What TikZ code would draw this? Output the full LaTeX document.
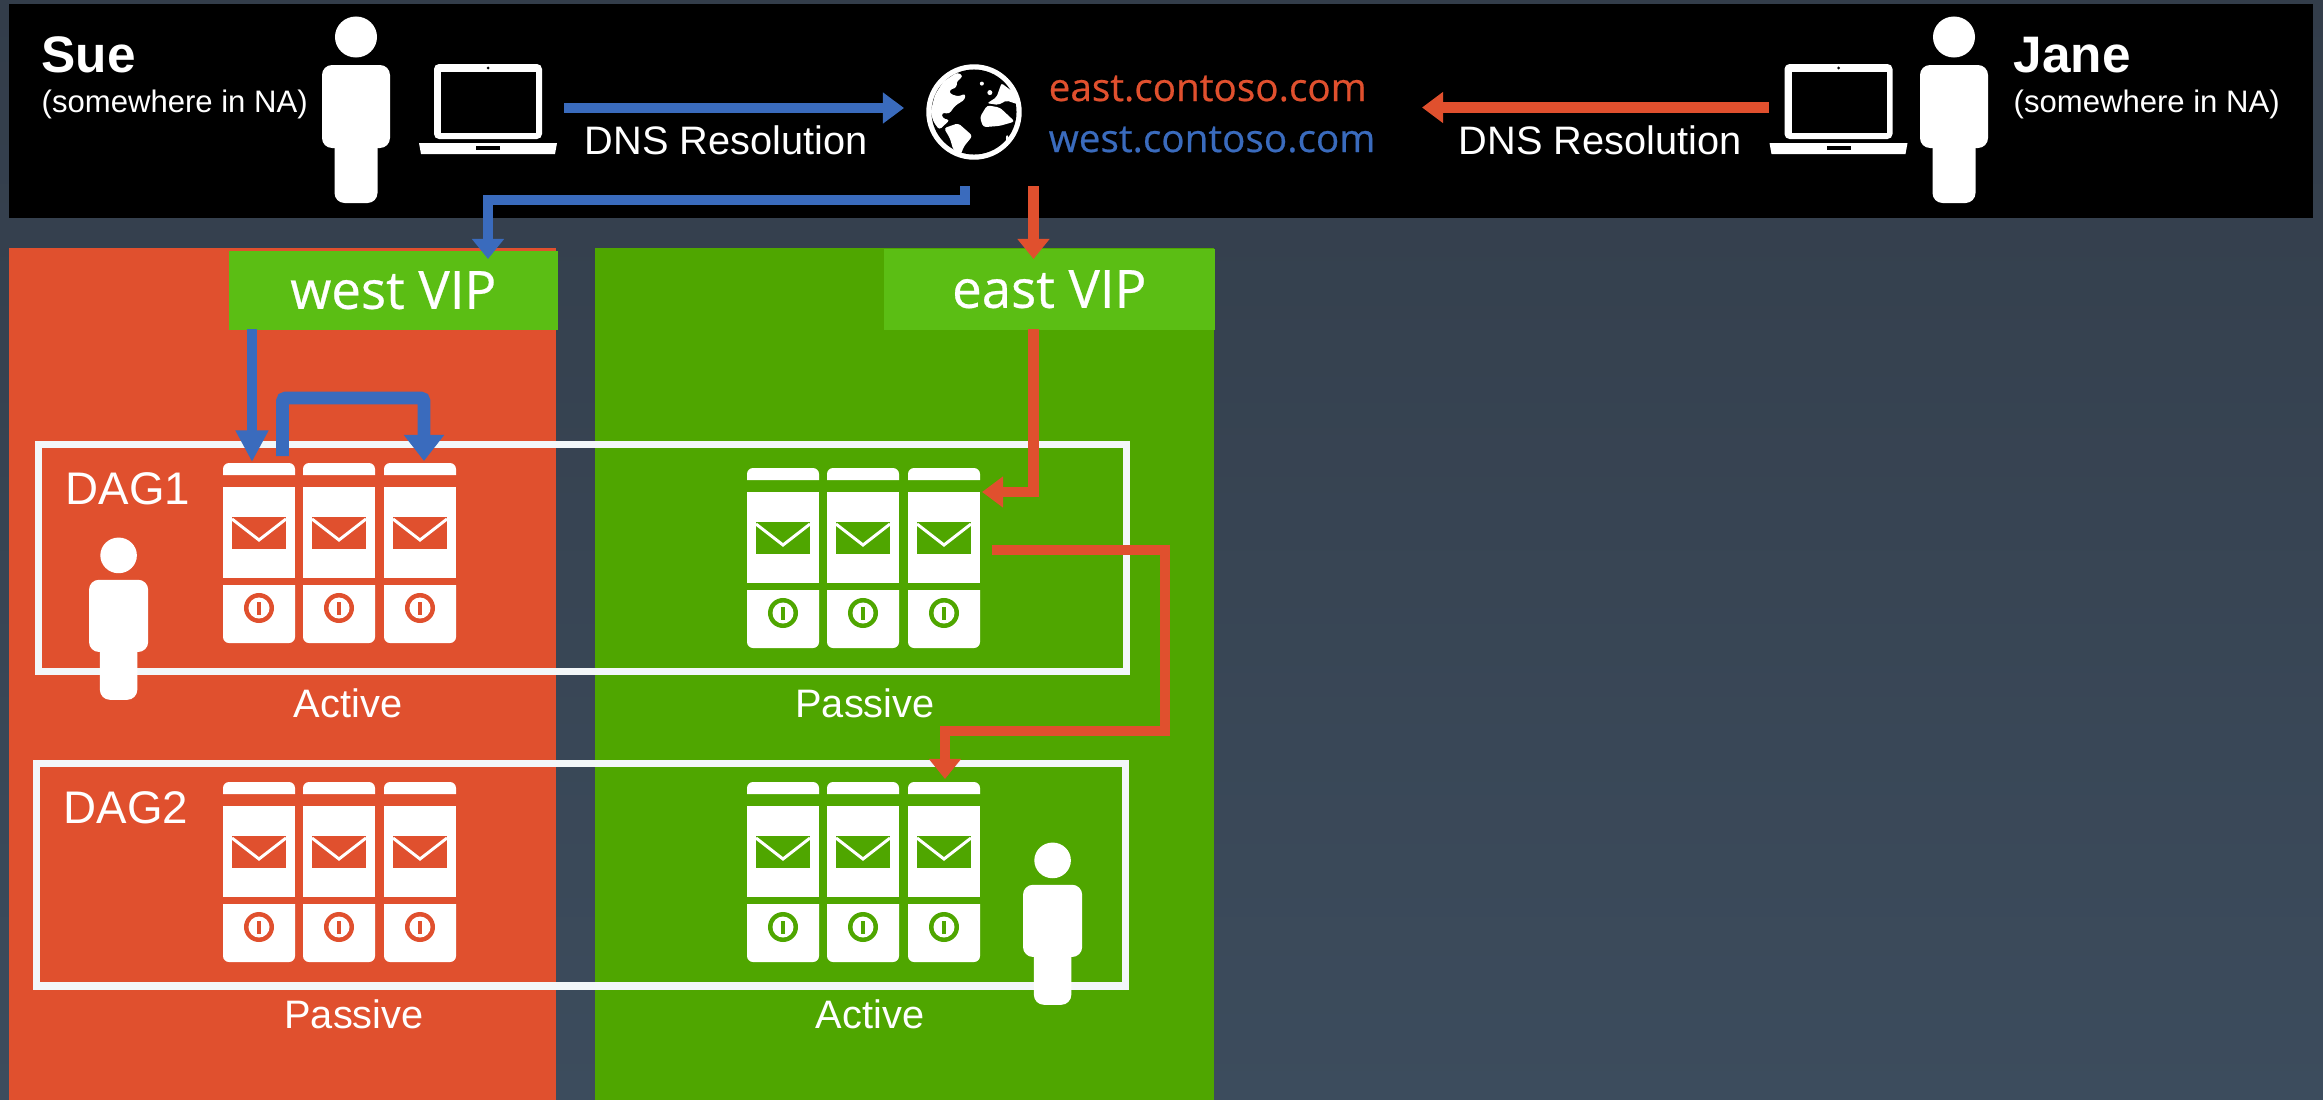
\documentclass[tikz,border=0pt]{standalone}
\usepackage{fontspec}
\setmainfont{Liberation Sans}
\newfontfamily\vipfont[FakeBold=.5]{Open Sans}
\usetikzlibrary{arrows.meta}
\definecolor{bgtop}{HTML}{333D4A}
\definecolor{bgbottom}{HTML}{3C4C5D}
\definecolor{redpanel}{HTML}{E0502E}
\definecolor{greenpanel}{HTML}{4FA600}
\definecolor{vipgreen}{HTML}{5BBE14}
\definecolor{linkblue}{HTML}{3A6BBD}
\definecolor{dagwhite}{HTML}{F3F7F9}
\tikzset{
  lbl/.style={anchor=base,inner sep=0pt,text=white,font=\fontsize{11.3}{13}\selectfont},
  lblleft/.style={lbl,anchor=base west},
  who/.style={lblleft,font=\fontsize{14.6}{17}\bfseries\selectfont},
  where/.style={lblleft,font=\fontsize{8.84}{10}\selectfont},
  dag/.style={lblleft,font=\fontsize{13}{15}\selectfont},
  site/.style={anchor=base west,inner sep=0pt,font=\fontsize{11}{13}\vipfont},
  vip/.style={anchor=north west,fill=vipgreen,text=white,inner sep=0pt,font=\fontsize{15}{17}\vipfont},
  dagframe/.style={draw=dagwhite,line width=2.1pt},
  bluelink/.style={draw=linkblue,line width=3pt},
  redlink/.style={draw=redpanel,line width=3pt},
  pics/person/.style={code={
    \fill[white] (0,20) ellipse [x radius=.21cm,y radius=.205cm];
    \fill[white,rounded corners=.1cm] (-34,48) rectangle (34,131);
    \fill[white,rounded corners=.1cm] (-21.5,110) rectangle (21.5,186);
  }},
  pics/laptop/.style={code={
    \fill[white,rounded corners=.05cm] (-54,0) rectangle (54,75);
    \fill[black] (-47,8) rectangle (48,69);
    \fill[black] (0,4) circle (.015cm);
    \fill[white] (-69,79) -- (69,79) -- (67,90) -- (-67,90) -- cycle;
    \fill[black] (-12,82) rectangle (12,86);
  }},
  pics/mailserver/.style={code={
    \fill[white] (0,12) [rounded corners=.06cm] -- (0,0) -- (72,0) [sharp corners] -- (72,12) -- cycle;
    \fill[white] (0,24) rectangle (72,115);
    \fill[white] (0,122) -- (72,122) [rounded corners=.06cm] -- (72,180) -- (0,180) [sharp corners] -- cycle;
    \fill[#1] (9,54) rectangle (63,86);
    \draw[white,line width=.85pt] (9,56) -- (36,77) -- (63,56);
    \fill[#1] (36,145) circle (.15cm);
    \fill[white] (36,145) circle (.105cm);
    \fill[#1] (34,138.5) rectangle (38,151.5);
  }}
}
\begin{document}
\begin{tikzpicture}[x=.01cm,y=-.01cm]
\useasboundingbox (0,0) rectangle (2323,1100);
\shade[top color=bgtop,bottom color=bgbottom] (0,0) rectangle (2323,1100);
\fill[black] (9,4) rectangle (2313,218);
\fill[redpanel] (9,248) rectangle (556,1100);
\fill[greenpanel] (595,248) rectangle (1214,1100);
\node[vip,minimum width=3.29cm,minimum height=.79cm] (westvip) at (228,250) {west VIP};
\node[vip,minimum width=3.31cm,minimum height=.81cm] (eastvip) at (883,248) {east VIP};
\node[dagframe,minimum width=10.875cm,minimum height=2.27cm,anchor=north west] (dagone) at (34.5,440.5) {};
\node[dagframe,minimum width=10.88cm,minimum height=2.225cm,anchor=north west] (dagtwo) at (33,759.5) {};
\node[who] (sue) at (41,72) {Sue};
\node[where] (suewhere) at (41,113) {(somewhere in NA)};
\node[who] (jane) at (2013,72) {Jane};
\node[where] (janewhere) at (2013,113) {(somewhere in NA)};
\node[lblleft] (suedns) at (584,154) {DNS Resolution};
\node[lblleft] (janedns) at (1458,154) {DNS Resolution};
\node[site,text=redpanel] (eastsite) at (1048,101) {east.contoso.com};
\node[site,text=linkblue] (westsite) at (1048,152) {west.contoso.com};
\node[dag] (dagonelabel) at (65,504) {DAG1};
\node[dag] (dagtwolabel) at (63,823) {DAG2};
\node[lbl] (dagonewest) at (348,717) {Active};
\node[lbl] (dagoneeast) at (865,717) {Passive};
\node[lbl] (dagtwowest) at (354,1028) {Passive};
\node[lbl] (dagtwoeast) at (870,1028) {Active};
\pic (suefig) at (356,17) {person};
\pic (janefig) at (1954,17) {person};
\pic[scale=.87] (dagonefig) at (118.6,538) {person};
\pic[scale=.87] (dagtwofig) at (1052.6,843) {person};
\pic (suelaptop) at (488,64) {laptop};
\pic (janelaptop) at (1838.5,64) {laptop};
\pic at (223,463) {mailserver=redpanel};
\pic at (303,463) {mailserver=redpanel};
\pic at (384,463) {mailserver=redpanel};
\pic at (747,468) {mailserver=greenpanel};
\pic at (827,468) {mailserver=greenpanel};
\pic at (908,468) {mailserver=greenpanel};
\pic at (223,782) {mailserver=redpanel};
\pic at (303,782) {mailserver=redpanel};
\pic at (384,782) {mailserver=redpanel};
\pic at (747,782) {mailserver=greenpanel};
\pic at (827,782) {mailserver=greenpanel};
\pic at (908,782) {mailserver=greenpanel};
\fill[white] (974,112) circle (.477cm);
\fill[black] (974,112) circle (.425cm);
\begin{scope}[shift={(900,40)},x=.00333cm,y=-.00333cm]
\fill[white,rounded corners=.03cm] (92,215) -- (105,165) -- (130,125) -- (172,97) -- (190,108) -- (168,128) -- (172,142) -- (148,150) -- (150,162) -- (178,170) -- (196,160) -- (196,178) -- (165,198) -- (148,222) -- (125,218) -- (128,236) -- (150,240) -- (118,270) -- (100,245) -- cycle;
\fill[white,rounded corners=.03cm] (132,265) -- (175,250) -- (218,288) -- (192,320) -- (182,346) -- (160,330) -- (150,295) -- cycle;
\fill[white,rounded corners=.03cm] (240,232) -- (262,196) -- (300,203) -- (345,245) -- (300,258) -- (250,262) -- cycle;
\fill[white,rounded corners=.02cm] (262,190) -- (290,172) -- (305,130) -- (345,160) -- (360,195) -- (320,182) -- (295,195) -- cycle;
\fill[white] (246,131) circle (.02cm);
\fill[white] (270,158) circle (.025cm);
\fill[white] (322,295) ellipse [x radius=.012cm,y radius=.03cm];
\end{scope}
\coordinate (suedns1) at (564,108);
\coordinate (globew) at (904,108);
\coordinate (janedns1) at (1769,107.5);
\coordinate (globee) at (1422,107.5);
\coordinate (globewest) at (965,186);
\coordinate (westin) at (488,259);
\coordinate (globeeast) at (1033.5,186);
\coordinate (eastin) at (1033.5,259);
\coordinate (westout) at (252,329);
\coordinate (dagonetop) at (252,462);
\coordinate (loopout) at (282.5,456);
\coordinate (loopin) at (424,461);
\coordinate (eastout) at (1033.5,329);
\coordinate (dagonepassive) at (982,492);
\coordinate (replout) at (991.5,550);
\coordinate (replin) at (945,779);
\draw[bluelink,-{Triangle[length=6pt,width=8.5pt]}] (suedns1) -- (globew);
\draw[redlink,-{Triangle[length=6pt,width=8.5pt]}] (janedns1) -- (globee);
\draw[bluelink,-{Triangle[length=5.7pt,width=8.8pt]}] (globewest) -- (965,200) -- (488,200) -- (westin);
\draw[redlink,-{Triangle[length=5.7pt,width=8.8pt]}] (globeeast) -- (eastin);
\draw[bluelink,-{Triangle[length=9pt,width=8.8pt]}] (westout) -- (dagonetop);
\draw[bluelink,line width=3.6pt,rounded corners=.03cm,-{Triangle[length=7.4pt,width=11pt]}] (loopout) -- (282.5,398) -- (424,398) -- (loopin);
\draw[redlink,-{Triangle[length=6pt,width=8.5pt]}] (eastout) -- (1033.5,492) -- (dagonepassive);
\draw[redlink,-{Triangle[length=5.7pt,width=8.8pt]}] (replout) -- (1165,550) -- (1165,731) -- (945,731) -- (replin);
\end{tikzpicture}
\end{document}
